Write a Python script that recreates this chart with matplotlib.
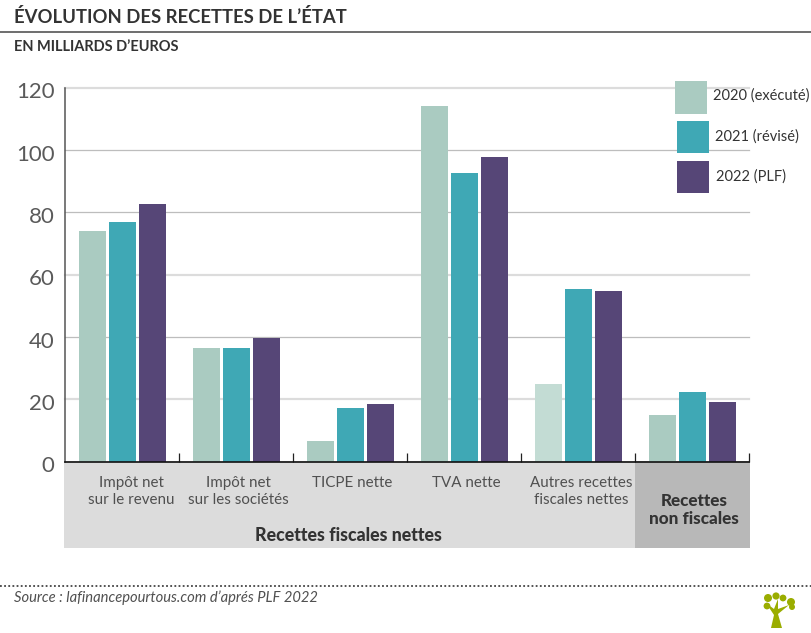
import matplotlib
matplotlib.use("Agg")
import matplotlib.pyplot as plt
from matplotlib.patches import Rectangle, Circle, Polygon
from matplotlib.lines import Line2D
import numpy as np

categories = ["Impôt net\nsur le revenu", "Impôt net\nsur les sociétés", "TICPE nette",
              "TVA nette", "Autres recettes\nfiscales nettes"]
last_category = "Recettes\nnon fiscales"
group_label = "Recettes fiscales nettes"
series_names = ["2020 (exécuté)", "2021 (révisé)", "2022 (PLF)"]
v2020 = [73.8, 36.3, 6.7, 114.0, 25.0, 14.8]
v2021 = [77.0, 36.3, 17.3, 92.5, 55.2, 22.2]
v2022 = [82.5, 39.5, 18.3, 97.6, 54.6, 19.0]
yticks = [0, 20, 40, 60, 80, 100, 120]
colors = ["#aacbc1", "#3fa8b5", "#564677"]
faded = "#c3dcd4"

W, H = 812, 633
plt.rcParams["font.family"] = ["Lato", "DejaVu Sans"]
fig = plt.figure(figsize=(W / 100, H / 100), dpi=100)
L, R, T, B = 65.5, 749.5, 87.5, 461.5
ax = fig.add_axes([L / W, 1 - B / H, (R - L) / W, (B - T) / H])
ax.set_xlim(0, 6)
ax.set_ylim(0, 120)
ax.patch.set_alpha(0)

def px(x, y):
    return x / W, 1 - y / H

# bands under the axis
depth = -27.7
ax.add_patch(Rectangle((-0.015, depth), 5.015, -depth, fc="#dcdcdc", ec="none", clip_on=False, zorder=0))
ax.add_patch(Rectangle((5, depth), 1.005, -depth, fc="#b8b8b8", ec="none", clip_on=False, zorder=0))

# grid
for t in yticks[1:]:
    thick = t in (120, 60, 20)
    ax.axhline(t, color="#dcdcdc" if thick else "#bdbdbd", lw=1.6 if thick else 0.9, zorder=1, clip_on=False)

# bars
bw = 27.5 / 114
off = 30.2 / 114
centers = np.arange(6) + 0.5
for k, vals in enumerate([v2020, v2021, v2022]):
    cs = [colors[k]] * 6
    if k == 0:
        cs[4] = faded
    ax.bar(centers + (k - 1) * off, vals, width=bw, color=cs, zorder=2)

# axes
for s in ["top", "right"]:
    ax.spines[s].set_visible(False)
ax.spines["left"].set_color("#555555")
ax.spines["left"].set_linewidth(1.1)
ax.spines["bottom"].set_color("#111111")
ax.spines["bottom"].set_linewidth(1.2)
ax.spines["bottom"].set_zorder(3)
ax.set_xticks(range(1, 7))
ax.set_xticklabels([])
ax.tick_params(axis="x", direction="in", length=6.5, width=0.9, color="#222222")
ax.set_yticks(yticks)
ax.set_yticklabels([])
ax.tick_params(axis="y", length=0)

for t in yticks:
    ax.annotate(str(t), (0, t), xytext=(-8, -3.5), textcoords="offset points", ha="right", va="center",
                fontsize=16, color="#5a5a5a", fontweight="normal", annotation_clip=False)

label_shift = [0.075, 0.015, 0.015, 0.015, 0.022]
for c, lab, sh in zip(centers, categories, label_shift):
    ax.text(c + sh, -4.5, lab, ha="center", va="top", fontsize=10.9, color="#505050",
            linespacing=1.3, clip_on=False, fontweight="normal")
ax.text(5.515, -10.0, last_category, ha="center", va="top", fontsize=12.3, color="#333333", fontweight="black",
        linespacing=1.16, clip_on=False)
ax.text(2.48, -23.6, group_label, ha="center", va="center", fontsize=12.8, color="#333333", fontweight="black",
        clip_on=False)

# header
fig.text(*px(14, 17), "ÉVOLUTION DES RECETTES DE L’ÉTAT", fontsize=13.3, color="#333333", fontweight="bold",
         va="center", ha="left")
fig.add_artist(Line2D([0, 1], [1 - 32 / H] * 2, color="#555555", lw=1.2))
fig.text(*px(14, 47), "EN MILLIARDS D’EUROS", fontsize=10.5, color="#333333", fontweight="bold", va="center", ha="left")

# legend
swatches = [(675.5, 81.5), (677, 121), (677, 161)]
labx = [713, 715, 716]
laby = [96, 137, 177]
for (x, y), c, name, lx, ly in zip(swatches, colors, series_names, labx, laby):
    fig.add_artist(Rectangle(px(x, y + 32), 32 / W, 32 / H, transform=fig.transFigure, fc=c, ec="none", zorder=5))
    fig.text(*px(lx, ly), name, fontsize=10.5, color="#333333", va="center", ha="left", zorder=6)

# footer
fig.add_artist(Line2D([0, 1], [1 - 586 / H] * 2, color="#444444", lw=1.3, ls=(0, (1, 1.3))))
fig.text(*px(14, 598), "Source : lafinancepourtous.com d’aprés PLF 2022", fontsize=10.6, color="#505050",
         style="italic", fontweight="normal", va="center", ha="left")

# tree logo
g = "#9aad00"
fig_pix = lambda pts: [px(a, b) for a, b in pts]
fig.add_artist(Polygon(fig_pix([(771, 628), (782, 628), (778, 614), (789, 605), (778, 609), (778, 599),
                                (774, 609), (766, 603), (774, 615)]),
                       closed=True, transform=fig.transFigure, fc=g, ec="none"))
for (a, b, r) in [(768, 598, 4), (776, 596, 3.6), (783, 598, 3.4), (791, 602, 4), (792, 607, 3), (767, 606, 3.4)]:
    fig.add_artist(Circle((a, H - b), r, transform=None, fc=g, ec="none"))

fig.savefig("out.png", dpi=100)
